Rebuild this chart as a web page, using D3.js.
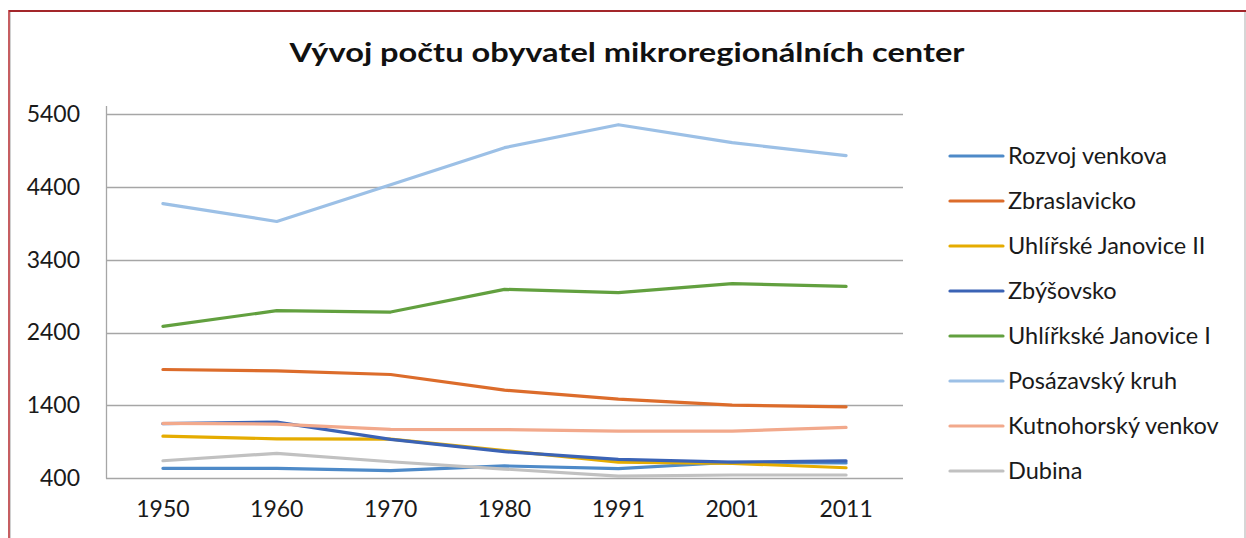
<!DOCTYPE html>
<html>
<head>
<meta charset="utf-8">
<script src="https://cdn.jsdelivr.net/npm/d3@7"></script>
<style>
  body { margin: 0; background: #fff; }
  svg { display: block; font-family: Lato, "Open Sans", sans-serif; }
  .axis path, .axis line { display: none; }
  .grid line { stroke: #a6a6a6; stroke-width: 1.3; }
</style>
</head>
<body>
<div id="chart"></div>
<script>
var years = ["1950", "1960", "1970", "1980", "1991", "2001", "2011"];
var yTicks = [400, 1400, 2400, 3400, 4400, 5400];

var seriesNames = ["Rozvoj venkova", "Zbraslavicko", "Uhlířské Janovice II", "Zbýšovsko",
  "Uhlířkské Janovice I", "Posázavský kruh", "Kutnohorský venkov", "Dubina"];
var seriesColors = ["#4e8ac8", "#dc6c2b", "#e5ac00", "#3b63b5", "#62a03f", "#9cc0e6", "#f2a98c", "#c1c1c1"];

var rozvojVenkova   = [537, 537, 504, 570, 532, 620, 610];
var zbraslavicko    = [1893, 1874, 1825, 1610, 1486, 1404, 1381];
var uhlirskeJanII   = [979, 942, 938, 780, 623, 605, 545];
var zbysovsko       = [1150, 1171, 934, 765, 660, 623, 638];
var uhlirkskeJanI   = [2486, 2701, 2682, 2993, 2948, 3071, 3034];
var posazavskyKruh  = [4171, 3925, 4430, 4938, 5253, 5007, 4829];
var kutnohorsky     = [1153, 1144, 1071, 1068, 1048, 1048, 1098];
var dubina          = [641, 742, 627, 527, 431, 445, 445];

var seriesValues = [rozvojVenkova, zbraslavicko, uhlirskeJanII, zbysovsko,
  uhlirkskeJanI, posazavskyKruh, kutnohorsky, dubina];

var W = 1246, H = 538;
var plot = {left: 106, right: 903, top: 114, bottom: 478.3};

var svg = d3.select("#chart").append("svg")
    .attr("width", W)
    .attr("height", H);

// outer frame
svg.append("line").attr("x1", 9).attr("x2", W).attr("y1", 11).attr("y2", 11)
  .attr("stroke", "#a3262a").attr("stroke-width", 2);
svg.append("line").attr("x1", 9).attr("x2", 9).attr("y1", 10).attr("y2", H)
  .attr("stroke", "#b3282c").attr("stroke-width", 1.5);
svg.append("line").attr("x1", 10.5).attr("x2", 10.5).attr("y1", 12).attr("y2", H)
  .attr("stroke", "#d0d0d0").attr("stroke-width", 1);
svg.append("line").attr("x1", 1245).attr("x2", 1245).attr("y1", 12).attr("y2", H)
  .attr("stroke", "#c8c8c8").attr("stroke-width", 1.5);

svg.append("text")
  .attr("x", 627).attr("y", 62)
  .attr("text-anchor", "middle")
  .attr("font-size", 26).attr("font-weight", "bold")
  .attr("fill", "#111")
  .attr("textLength", 675).attr("lengthAdjust", "spacingAndGlyphs")
  .text("Vývoj počtu obyvatel mikroregionálních center");

var xScale = d3.scaleBand()
  .domain(years)
  .range([plot.left, plot.right]);

var yScale = d3.scaleLinear()
  .domain([400, 5400])
  .range([plot.bottom, plot.top]);

// gridlines
svg.append("g").attr("class", "grid")
  .selectAll("line")
  .data(yTicks)
  .enter().append("line")
  .attr("x1", plot.left).attr("x2", plot.right)
  .attr("y1", function(d) { return Math.round(yScale(d)) + 0.5; })
  .attr("y2", function(d) { return Math.round(yScale(d)) + 0.5; });

svg.append("line")
  .attr("x1", plot.left + 0.5).attr("x2", plot.left + 0.5)
  .attr("y1", plot.top - 8).attr("y2", Math.round(plot.bottom) + 0.5)
  .attr("stroke", "#a6a6a6").attr("stroke-width", 1.3);

var yAxis = svg.append("g")
  .attr("class", "axis")
  .attr("transform", "translate(" + (plot.left - 26) + ",0)")
  .call(d3.axisLeft(yScale).tickValues(yTicks).tickSize(0).tickPadding(0).tickFormat(d3.format("d")));
yAxis.selectAll("text")
  .attr("font-size", 23).attr("fill", "#1a1a1a")
  .attr("font-family", "Lato, sans-serif");

var xAxis = svg.append("g")
  .attr("class", "axis")
  .attr("transform", "translate(0," + (plot.bottom + 22) + ")")
  .call(d3.axisBottom(xScale).tickSize(0).tickPadding(0));
xAxis.selectAll("text")
  .attr("font-size", 23).attr("fill", "#1a1a1a")
  .attr("font-family", "Lato, sans-serif");

var line = d3.line()
  .x(function(d, i) { return xScale(years[i]) + xScale.bandwidth() / 2; })
  .y(function(d) { return yScale(d); });

svg.append("g").selectAll("path")
  .data(seriesValues)
  .enter().append("path")
  .attr("d", line)
  .attr("fill", "none")
  .attr("stroke", function(d, i) { return seriesColors[i]; })
  .attr("stroke-width", 3.2)
  .attr("stroke-linecap", "round")
  .attr("stroke-linejoin", "round");

// legend
var legend = svg.append("g").selectAll("g")
  .data(seriesNames)
  .enter().append("g")
  .attr("transform", function(d, i) { return "translate(950," + (156 + i * 45) + ")"; });

legend.append("line")
  .attr("x1", 0).attr("x2", 53)
  .attr("stroke", function(d, i) { return seriesColors[i]; })
  .attr("stroke-width", 3.2)
  .attr("stroke-linecap", "round");

legend.append("text")
  .attr("x", 58).attr("y", 8)
  .attr("font-size", 23.5).attr("fill", "#1a1a1a")
  .text(function(d) { return d; });
</script>
</body>
</html>
